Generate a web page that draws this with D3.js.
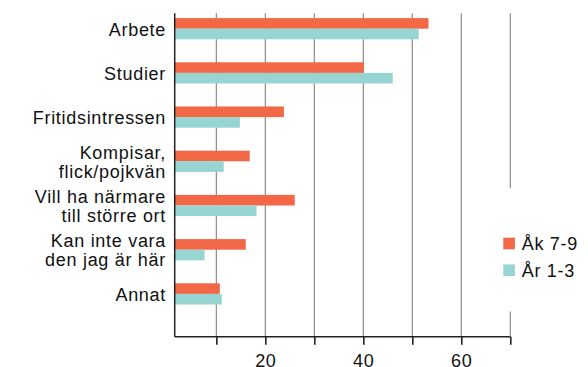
<!DOCTYPE html>
<html>
<head>
<meta charset="utf-8">
<script src="https://cdn.jsdelivr.net/npm/d3@7"></script>
<style>
  html, body { margin: 0; padding: 0; background: #fff; }
  svg { display: block; font-family: "Liberation Sans", Arial, sans-serif; }
  svg text { letter-spacing: 0.7px; }
</style>
</head>
<body>
<svg id="chart" width="588" height="367"></svg>
<script>
// Reasons for wanting to move, by school level (percent)
const categories = [
  "Arbete",
  "Studier",
  "Fritidsintressen",
  "Kompisar,\nflick/pojkvän",
  "Vill ha närmare\ntill större ort",
  "Kan inte vara\nden jag är här",
  "Annat"
];
const seriesNames = ["Åk 7-9", "År 1-3"];
const akValues = [53.3, 40.1, 23.8, 16.8, 26.0, 16.0, 10.7];
const arValues = [51.3, 46.0, 14.8, 11.5, 18.2, 7.6, 11.1];
const tickValues = [10, 20, 30, 40, 50, 60, 70];
const labelledTicks = [20, 40, 60];
const colors = ["#F26746", "#97D5D2"];

const svg = d3.select("#chart");

const plotTop = 13.3, plotBottom = 336.7;
const xStart = 1.5;
const fontSize = 18;

const x = d3.scaleLinear().domain([xStart, 70]).range([174.7, 510.3]);

const y = d3.scaleBand()
  .domain(categories)
  .range([6.6, 316])
  .paddingInner(0.52)
  .paddingOuter(0.26);

const ySub = d3.scaleBand()
  .domain(seriesNames)
  .range([0, y.bandwidth()]);

const color = d3.scaleOrdinal().domain(seriesNames).range(colors);

const rows = categories.map((c, i) => ({
  category: c,
  values: [
    { series: seriesNames[0], value: akValues[i] },
    { series: seriesNames[1], value: arValues[i] }
  ]
}));

// Vertical gridlines
svg.append("g")
  .selectAll("line")
  .data(tickValues)
  .join("line")
  .attr("x1", d => x(d)).attr("x2", d => x(d))
  .attr("y1", plotTop).attr("y2", plotBottom)
  .attr("stroke", "#8c8c8c")
  .attr("stroke-width", 1.2);

// Bars
const groups = svg.append("g")
  .selectAll("g")
  .data(rows)
  .join("g")
  .attr("transform", d => `translate(0,${y(d.category)})`);

groups.selectAll("rect")
  .data(d => d.values)
  .join("rect")
  .attr("x", x(xStart))
  .attr("y", d => ySub(d.series))
  .attr("width", d => x(d.value) - x(xStart))
  .attr("height", ySub.bandwidth())
  .attr("fill", d => color(d.series));

// Category labels (multi-line, right aligned, centred on each group)
const lineH = 19;
svg.append("g")
  .selectAll("text")
  .data(categories)
  .join("text")
  .attr("text-anchor", "end")
  .attr("font-size", fontSize)
  .attr("fill", "#111")
  .each(function (d) {
    const lines = d.split("\n");
    const cy = y(d) + y.bandwidth() / 2;
    const first = cy - (lines.length - 1) * lineH / 2 + 7;
    d3.select(this).selectAll("tspan")
      .data(lines)
      .join("tspan")
      .attr("x", 166)
      .attr("y", (l, i) => first + i * lineH)
      .text(l => l);
  });

// Bottom axis
const xAxis = d3.axisBottom(x)
  .tickValues(tickValues)
  .tickSize(8)
  .tickPadding(0)
  .tickFormat(d => labelledTicks.includes(d) ? d : "");

const axisG = svg.append("g")
  .attr("transform", `translate(0,${plotBottom})`)
  .call(xAxis);
axisG.select(".domain").remove();
axisG.selectAll(".tick line").attr("stroke", "#222").attr("stroke-width", 1.6);
axisG.selectAll(".tick text")
  .attr("font-size", fontSize)
  .attr("font-family", "Liberation Sans, Arial, sans-serif")
  .attr("fill", "#111")
  .attr("dy", null)
  .attr("y", 367 - plotBottom - 0.3);

// Axis lines
svg.append("line")
  .attr("x1", x(xStart)).attr("x2", x(70))
  .attr("y1", plotBottom).attr("y2", plotBottom)
  .attr("stroke", "#222").attr("stroke-width", 1.5);
svg.append("line")
  .attr("x1", x(xStart)).attr("x2", x(xStart))
  .attr("y1", plotTop).attr("y2", plotBottom)
  .attr("stroke", "#222").attr("stroke-width", 1.5);

// Legend
const legend = svg.append("g");
legend.append("rect")
  .attr("x", 492).attr("y", 188)
  .attr("width", 96).attr("height", 123.5)
  .attr("fill", "#fff");
const items = legend.selectAll("g.item")
  .data(seriesNames)
  .join("g")
  .attr("class", "item")
  .attr("transform", (d, i) => `translate(503.3,${237.7 + i * 26.7})`);
items.append("rect")
  .attr("width", 11.6).attr("height", 11.6)
  .attr("fill", d => color(d));
items.append("text")
  .attr("x", 18.4).attr("y", 12.4)
  .attr("font-size", fontSize)
  .attr("fill", "#111")
  .text(d => d);
</script>
</body>
</html>
